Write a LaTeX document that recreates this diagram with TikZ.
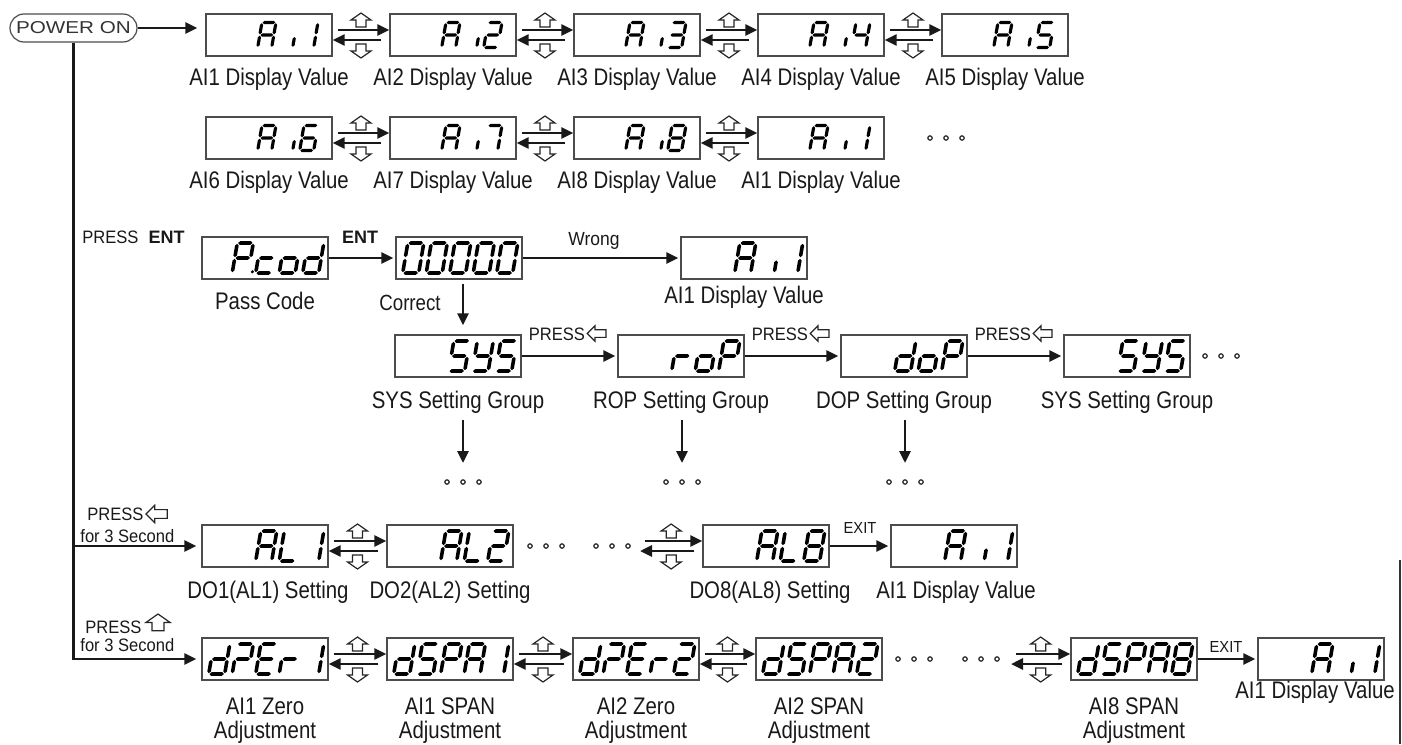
\documentclass[tikz,border=0pt]{standalone}
\usepackage{fontspec}
\setmainfont{Liberation Sans}[FakeStretch=0.85]
\newfontfamily\plainsf{Liberation Sans}
\newfontfamily\keyf{Liberation Sans}[FakeStretch=0.92]
\newfontfamily\widesf{Liberation Sans}[FakeStretch=1.2]
\usetikzlibrary{arrows.meta,calc}

% ---------- seven-segment glyphs ----------
% cell metrics: width, height, pitch, right offset, half thickness, gap
\newcommand\smalldisp{\def\cW{14}\def\cH{25}\def\cP{21}\def\cR{33}\def\cT{1.6}\def\cG{0.7}}
\newcommand\largedisp{\def\cW{16}\def\cH{30}\def\cP{23.5}\def\cR{26}\def\cT{1.8}\def\cG{0.8}}
% horizontal / vertical segment with pointed ends
\newcommand\lcdh[3]{\fill ({#1},{#3}) -- ({#1+\cT},{#3-\cT}) -- ({#2-\cT},{#3-\cT}) -- ({#2},{#3}) -- ({#2-\cT},{#3+\cT}) -- ({#1+\cT},{#3+\cT}) -- cycle;}
\newcommand\lcdv[3]{\fill ({#1},{#2}) -- ({#1+\cT},{#2+\cT}) -- ({#1+\cT},{#3-\cT}) -- ({#1},{#3}) -- ({#1-\cT},{#3-\cT}) -- ({#1-\cT},{#2+\cT}) -- cycle;}
\def\lsga{\lcdh{\cG}{\cW-\cG}{-\cH}}
\def\lsgb{\lcdv{\cW}{-\cH+\cG}{-\cH/2-\cG}}
\def\lsgc{\lcdv{\cW}{-\cH/2+\cG}{-\cG}}
\def\lsgd{\lcdh{\cG}{\cW-\cG}{0}}
\def\lsge{\lcdv{0}{-\cH/2+\cG}{-\cG}}
\def\lsgf{\lcdv{0}{-\cH+\cG}{-\cH/2-\cG}}
\def\lsgg{\lcdh{\cG}{\cW-\cG}{-\cH/2}}
\def\lsgi{\lcdv{\cW}{-0.42*\cH}{-\cG}}
\def\lsgp{\fill ({\cW+4},{-1.2}) circle (1.7);}
% glyphs as segment lists
\def\lgA{a,b,c,e,f,g}
\def\lgL{d,e,f}
\def\lgP{a,b,e,f,g}
\def\lgPp{a,b,e,f,g,p}
\def\lgS{a,c,d,f,g}
\def\lgY{b,c,d,f,g}
\def\lgE{a,d,e,f,g}
\def\lgZ{a,b,e,g}
\def\lgr{e,g}
\def\lgo{c,d,e,g}
\def\lgc{d,e,g}
\def\lgd{b,c,d,e,g}
\def\lgi{i}
\expandafter\def\csname lg0\endcsname{a,b,c,d,e,f}
\expandafter\def\csname lg1\endcsname{b,c}
\expandafter\def\csname lg2\endcsname{a,b,d,e,g}
\expandafter\def\csname lg5\endcsname{a,c,d,f,g}
\expandafter\def\csname lg3\endcsname{a,b,c,d,g}
\expandafter\def\csname lg4\endcsname{b,c,f,g}
\expandafter\def\csname lg6\endcsname{a,c,d,e,f,g}
\expandafter\def\csname lg7\endcsname{a,b,c}
\expandafter\def\csname lg8\endcsname{a,b,c,d,e,f,g}
\newcommand\drawglyph[1]{\edef\glist{\csname lg#1\endcsname}%
  \foreach \sg in \glist {\csname lsg\sg\endcsname}}
\newcommand\dcell[3]{\if\relax\detokenize{#3}\relax\else
  \begin{scope}[shift={($(#1.east)+({-\cR-(5-#2)*\cP},{\cH/2})$)},xslant=0.17]
    \drawglyph{#3}
  \end{scope}\fi}
\newcommand\disp[6]{\dcell{#1}{1}{#2}\dcell{#1}{2}{#3}\dcell{#1}{3}{#4}\dcell{#1}{4}{#5}\dcell{#1}{5}{#6}}

\tikzset{
  conn/.style={line width=1.4pt, draw=black!90},
  tip/.style={-{Triangle[length=6pt,width=5.5pt]}},
  disp/.style={draw=black!70, line width=0.7pt, minimum width=63pt, minimum height=21pt, inner sep=0pt},
  pwr/.style={draw=black!70, line width=0.6pt, rounded corners=7pt, minimum width=63.5pt, minimum height=14pt, inner sep=0pt, font=\widesf\fontsize{8.6}{10}\selectfont, text=black!80},
  lbl/.style={font=\fontsize{12}{14}\selectfont, inner sep=0pt, anchor=base, text=black!90},
  key/.style={font=\keyf\fontsize{9}{10}\selectfont, inner sep=0pt, anchor=base, text=black!90},
  hollow/.style={draw=black!85, line width=0.6pt, fill=white, line join=miter},
  dotc/.style={draw=black!85, line width=0.6pt},
  hup/.pic={\draw[hollow] (0,0) -- (10,7) -- (5,7) -- (5,14) -- (-5,14) -- (-5,7) -- (-10,7) -- cycle;},
  hdown/.pic={\draw[hollow] (0,0) -- (10,-7) -- (5,-7) -- (5,-14) -- (-5,-14) -- (-5,-7) -- (-10,-7) -- cycle;},
  hleft/.pic={\draw[hollow] (0,0) -- (7,-7) -- (7,-3.5) -- (17,-3.5) -- (17,3.5) -- (7,3.5) -- (7,7) -- cycle;},
  tridots/.pic={\foreach \k in {-16,0,16} \draw[dotc] (\k,0) circle (2.2);},
}
% two-way step between neighbouring displays
\newcommand\dbl[2]{%
  \draw[conn,tip] ($(#1)+(5,-5)$) -- ($(#2)+(0,-5)$);
  \draw[conn,tip] ($(#2)+(-8,5)$) -- ($(#1)+(0,5)$);
  \pic at ($(#1)!0.5!(#2)+(0,-22)$) {hup};
  \pic at ($(#1)!0.5!(#2)+(0,23)$) {hdown};}

\begin{document}
\begin{tikzpicture}[x=0.5pt,y=-0.5pt]
\useasboundingbox (0,0) rectangle (1402,744);

\node[pwr] (pwr) at (73.5,28) {POWER ON};

% ---- rows 1 and 2: analog input display cycle ----
\foreach \n/\x in {a1/269,a2/453,a3/637,a4/821,a5/1005} \node[disp] (\n) at (\x,35) {};
\foreach \n/\x in {b1/269,b2/453,b3/637,b4/821} \node[disp] (\n) at (\x,138) {};
\smalldisp
\disp{a1}{}{}{A}{i}{1}
\disp{a2}{}{}{A}{i}{2}
\disp{a3}{}{}{A}{i}{3}
\disp{a4}{}{}{A}{i}{4}
\disp{a5}{}{}{A}{i}{5}
\disp{b1}{}{}{A}{i}{6}
\disp{b2}{}{}{A}{i}{7}
\disp{b3}{}{}{A}{i}{8}
\disp{b4}{}{}{A}{i}{1}
\foreach \n/\t in {a1/1,a2/2,a3/3,a4/4,a5/5} \node[lbl] (l\n) at ($(\n.south)+(0,29)$) {AI\t{} Display Value};
\foreach \n/\t in {b1/6,b2/7,b3/8,b4/1} \node[lbl] (l\n) at ($(\n.south)+(0,29)$) {AI\t{} Display Value};
\draw[conn,tip,shorten >=4pt] (pwr.east) -- (pwr.east -| a1.west);
\dbl{a1.east}{a2.west}\dbl{a2.east}{a3.west}\dbl{a3.east}{a4.west}\dbl{a4.east}{a5.west}
\dbl{b1.east}{b2.west}\dbl{b2.east}{b3.west}\dbl{b3.east}{b4.west}
\coordinate (d2) at (946,138); \pic at (d2) {tridots};

% ---- row 3: pass code ----
\node[disp] (pcod) at (265,258) {};
\node[disp] (zero) at (459,258) {};
\node[disp] (wr) at (744,258) {};
\largedisp
\disp{pcod}{}{Pp}{c}{o}{d}
\disp{zero}{0}{0}{0}{0}{0}
\disp{wr}{}{}{A}{i}{1}
\node[key,anchor=base west] (pent) at (82,243) {PRESS\hspace{5pt}{\plainsf\bfseries ENT}};
\draw[conn,tip,shorten >=1pt] (pcod.east) -- (zero.west);
\node[key] (ent) at (360,243) {\plainsf\bfseries ENT};
\draw[conn,tip,shorten >=1pt] (zero.east) -- (wr.west);
\node[key,font=\keyf\fontsize{9.5}{11}\selectfont] (wrong) at (594,245) {Wrong};
\node[lbl] (lpc) at (265,309) {Pass Code};
\node[lbl] (lwr) at (744,303) {AI1 Display Value};
\node[lbl,font=\fontsize{11}{13}\selectfont] (corr) at (410,310) {Correct};

% ---- row 4: setting groups ----
\foreach \n/\x in {s1/458,s2/681,s3/904,s4/1127} \node[disp] (\n) at (\x,356) {};
\disp{s1}{}{}{S}{Y}{S}
\disp{s2}{}{}{r}{o}{P}
\disp{s3}{}{}{d}{o}{P}
\disp{s4}{}{}{S}{Y}{S}
\draw[conn,tip] ($(zero.south)+(4,4)$) -- ($(s1.north)+(5,-9)$);
\foreach \p/\q in {s1/s2,s2/s3,s3/s4}{
  \draw[conn,tip,shorten >=1pt] (\p.east) -- (\q.west);
  \node[key,anchor=base east] (k\q) at ($(\q.west)+(-32,-16)$) {PRESS};
  \pic[scale=1.1] at ($(\q.west)+(-30,-22.5)$) {hleft};
}
\coordinate (d4) at (1221,356); \pic at (d4) {tridots};
\node[lbl] (ls1) at (458,408) {SYS Setting Group};
\node[lbl] (ls2) at (681,408) {ROP Setting Group};
\node[lbl] (ls3) at (904,408) {DOP Setting Group};
\node[lbl] (ls4) at (1127,408) {SYS Setting Group};
\coordinate (e1) at (463,482); \coordinate (e2) at (682,482); \coordinate (e3) at (905,482);
\foreach \c/\l in {e1/ls1,e2/ls2,e3/ls3}{
  \draw[conn,tip] ($(\l.base -| \c)+(0,12)$) -- ($(\c)+(0,-19)$);
  \pic at (\c) {tridots};
}

% ---- row 5: alarm settings ----
\foreach \n/\x in {al1/265,al2/450,al8/766,al9/954} \node[disp] (\n) at (\x,546) {};
\disp{al1}{}{}{A}{L}{1}
\disp{al2}{}{}{A}{L}{2}
\disp{al8}{}{}{A}{L}{8}
\disp{al9}{}{}{A}{i}{1}
\draw[conn,tip,shorten >=2.5pt] (pwr.south |- al1.west) -- (al1.west);
\node[key,anchor=base west] (pl1) at (87,520) {PRESS};
\pic[scale=1.25] at (146,514) {hleft};
\node[key,anchor=base west] (pl2) at (80,542) {for 3 Second};
\dbl{al1.east}{al2.west}
\coordinate (d5a) at (546,546); \pic at (d5a) {tridots};
\coordinate (d5b) at (612,546); \pic at (d5b) {tridots};
\coordinate (f8) at (640,546);
\dbl{f8}{al8.west}
\draw[conn,tip,shorten >=1pt] (al8.east) -- (al9.west);
\node[key,font=\keyf\fontsize{8}{9}\selectfont] (x5) at (860,533) {EXIT};
\node[lbl] (lal1) at (268,598) {DO1(AL1) Setting};
\node[lbl] (lal2) at (450,598) {DO2(AL2) Setting};
\node[lbl] (lal8) at (770,598) {DO8(AL8) Setting};
\node[lbl] (lal9) at (956,598) {AI1 Display Value};

% ---- row 6: zero / span adjustment ----
\foreach \n/\x in {z1/265,z2/450,z3/636,z4/819,z8/1134,z9/1321} \node[disp] (\n) at (\x,659) {};
\disp{z1}{d}{Z}{E}{r}{1}
\disp{z2}{d}{S}{P}{A}{1}
\disp{z3}{d}{Z}{E}{r}{2}
\disp{z4}{d}{S}{P}{A}{2}
\disp{z8}{d}{S}{P}{A}{8}
\disp{z9}{}{}{A}{i}{1}
\draw[conn,tip,shorten >=2.5pt] (pwr.south) |- (z1.west);
\node[key,anchor=base west] (pz1) at (85,633) {PRESS};
\pic[scale=1.2] at (158,614) {hup};
\node[key,anchor=base west] (pz2) at (80,651) {for 3 Second};
\dbl{z1.east}{z2.west}\dbl{z2.east}{z3.west}\dbl{z3.east}{z4.west}
\coordinate (d6a) at (914,659); \pic at (d6a) {tridots};
\coordinate (d6b) at (981,659); \pic at (d6b) {tridots};
\coordinate (f9) at (1011,659);
\dbl{f9}{z8.west}
\draw[conn,tip,shorten >=1pt] (z8.east) -- (z9.west);
\node[key,font=\keyf\fontsize{8}{9}\selectfont] (x6) at (1226,652) {EXIT};
\foreach \n/\t in {z1/AI1 Zero,z2/AI1 SPAN,z3/AI2 Zero,z4/AI2 SPAN,z8/AI8 SPAN}{
  \node[lbl] (t\n) at ($(\n.south)+(0,34)$) {\t};
  \node[lbl] (u\n) at ($(\n.south)+(0,58)$) {Adjustment};
}
\node[lbl] (lz9) at (1315,698) {AI1 Display Value};
\draw[line width=0.8pt,black!80] (1400,560) -- (1400,744);
\end{tikzpicture}
\end{document}
